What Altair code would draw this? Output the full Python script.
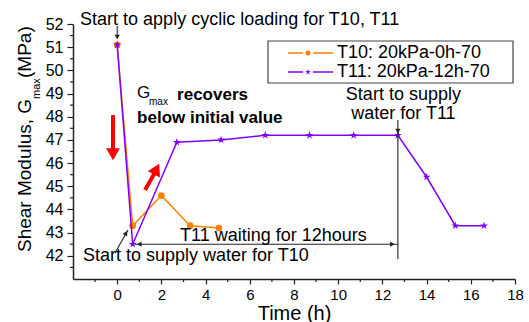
import altair as alt
import pandas as pd

# ---------------- data ----------------
t10_time = [0, 0.7, 2.0, 3.3, 4.6]
t10_g = [51.1, 43.3, 44.6, 43.3, 43.2]
t11_time = [0, 0.7, 2.7, 4.7, 6.7, 8.7, 10.7, 12.7, 14.0, 15.3, 16.6]
t11_g = [51.1, 42.5, 46.9, 47.0, 47.2, 47.2, 47.2, 47.2, 45.4, 43.3, 43.3]
series_labels = ["T10: 20kPa-0h-70", "T11: 20kPa-12h-70"]

x_ticks = list(range(0, 19, 2))
x_minor = list(range(-1, 18, 2))
y_ticks = list(range(42, 53))
y_minor = [41.5 + i for i in range(11)]

# annotation texts (positions in data units)
ann_left_text = ["Start to apply cyclic loading for T10, T11", "T11 waiting for 12hours",
                 "Start to supply water for T10"]
ann_left_x = [-1.68, 2.84, -1.55]
ann_left_y = [52.17, 42.87, 41.99]
ann_center_text = ["Start to supply", "water for T11"]
ann_center_x = [12.95, 12.95]
ann_center_y = [48.94, 48.11]
bold_text = ["recovers", "below initial value"]
bold_x = [2.71, 0.90]
bold_y = [48.94, 47.94]

# ---------------- style ----------------
W, H = 442, 255
LEFT, TOP = 73, 24
ORANGE = "#FF8000"
PURPLE = "#8000FF"
INK = "#222222"
FONT = "Liberation Sans"
STAR = ("M0,-1L0.2245,-0.309L0.951,-0.309L0.363,0.118L0.588,0.809L0,0.382"
        "L-0.588,0.809L-0.363,0.118L-0.951,-0.309L-0.2245,-0.309Z")

xs = alt.Scale(domain=[-2, 18], nice=False, zero=False)
ys = alt.Scale(domain=[41, 52], nice=False, zero=False)

x_axis = alt.Axis(values=x_ticks, tickSize=5, tickWidth=1.2, tickColor=INK, domainColor=INK,
                  domainWidth=1.5, labelFont=FONT, labelFontSize=15, labelColor="black",
                  labelPadding=3, title="Time (h)", titleFont=FONT, titleFontSize=20,
                  titleFontWeight="normal", titleColor="black", titleBaseline="alphabetic",
                  titleY=40, grid=False, labelFlush=False)
y_axis = alt.Axis(values=y_ticks, tickSize=6, tickWidth=1.2, tickColor=INK, domainColor=INK,
                  domainWidth=1.5, labelFont=FONT, labelFontSize=16, labelColor="black",
                  labelPadding=4, title="", grid=False, labelFlush=False)


def X(f="x"):
    return alt.X(f"{f}:Q", scale=xs, axis=x_axis, title="Time (h)")


def Y(f="y"):
    return alt.Y(f"{f}:Q", scale=ys, axis=y_axis, title="")


one = pd.DataFrame({"a": [0]})
t10 = pd.DataFrame({"x": t10_time, "y": t10_g})
t11 = pd.DataFrame({"x": t11_time, "y": t11_g})

layers = []

# series
layers.append(alt.Chart(t10).mark_line(color=ORANGE, strokeWidth=1.5).encode(x=X(), y=Y()))
layers.append(alt.Chart(t10).mark_point(shape="circle", filled=True, size=45, color=ORANGE,
                                        opacity=1).encode(x=X(), y=Y()))
layers.append(alt.Chart(t11).mark_line(color=PURPLE, strokeWidth=1.5).encode(x=X(), y=Y()))
layers.append(alt.Chart(t11).mark_point(shape=STAR, filled=True, size=70, color=PURPLE,
                                        opacity=1).encode(x=X(), y=Y()))

# minor ticks
layers.append(alt.Chart(pd.DataFrame({"x": x_minor})).mark_rule(color=INK, strokeWidth=1.2).encode(
    x=X(), y=alt.value(H), y2=alt.value(H + 3)))
layers.append(alt.Chart(pd.DataFrame({"y": y_minor})).mark_rule(color=INK, strokeWidth=1.2).encode(
    y=Y(), x=alt.value(0), x2=alt.value(-3)))

# black arrows: shafts
shafts = pd.DataFrame({
    "x": [0, 12.7, 0.8, -0.10],
    "y": [51.91, 47.86, 42.5, 42.12],
    "x2": [0, 12.7, 12.7, 0.49],
    "y2": [51.48, 41.86, 42.5, 43.11],
})
layers.append(alt.Chart(shafts).mark_rule(color=INK, strokeWidth=1.1).encode(
    x=X(), y=Y(), x2="x2:Q", y2="y2:Q"))
# arrow heads
heads = [
    (0, 51.44, "triangle-down", 0),
    (12.7, 47.38, "triangle-down", 0),
    (1.0, 42.5, "triangle-left", 0),
    (12.45, 42.5, "triangle-right", 0),
    (0.40, 42.98, "triangle-up", 29.5),
]
for hx, hy, shp, ang in heads:
    layers.append(alt.Chart(pd.DataFrame({"x": [hx], "y": [hy]})).mark_point(
        shape=shp, filled=True, size=28, color=INK, opacity=1, angle=ang).encode(x=X(), y=Y()))

# red arrows
red_shafts = pd.DataFrame({"x": [-0.19, 1.26], "y": [48.07, 44.84],
                           "x2": [-0.19, 1.71], "y2": [46.6, 45.6]})
layers.append(alt.Chart(red_shafts).mark_rule(color="#FF0000", strokeWidth=4).encode(
    x=X(), y=Y(), x2="x2:Q", y2="y2:Q"))
for hx, hy, ang in [(-0.19, 46.38, 180), (1.78, 45.74, 27)]:
    layers.append(alt.Chart(pd.DataFrame({"x": [hx], "y": [hy]})).mark_point(
        shape="triangle-up", filled=True, size=190, color="#FF0000", opacity=1,
        angle=ang).encode(x=X(), y=Y()))

# annotation texts
layers.append(alt.Chart(pd.DataFrame({"x": ann_left_x, "y": ann_left_y, "t": ann_left_text}))
              .mark_text(align="left", baseline="middle", font=FONT, fontSize=18, color="black")
              .encode(x=X(), y=Y(), text="t:N"))
layers.append(alt.Chart(pd.DataFrame({"x": ann_center_x, "y": ann_center_y, "t": ann_center_text}))
              .mark_text(align="center", baseline="middle", font=FONT, fontSize=18, color="black")
              .encode(x=X(), y=Y(), text="t:N"))
layers.append(alt.Chart(pd.DataFrame({"x": bold_x, "y": bold_y, "t": bold_text}))
              .mark_text(align="left", baseline="middle", font=FONT, fontSize=17,
                         fontWeight="bold", color="black")
              .encode(x=X(), y=Y(), text="t:N"))
layers.append(alt.Chart(pd.DataFrame({"x": [0.90], "y": [49.02], "t": ["G"]}))
              .mark_text(align="left", baseline="middle", font=FONT, fontSize=17, color="black")
              .encode(x=X(), y=Y(), text="t:N"))
layers.append(alt.Chart(pd.DataFrame({"x": [1.44], "y": [48.64], "t": ["max"]}))
              .mark_text(align="left", baseline="middle", font=FONT, fontSize=10, color="black")
              .encode(x=X(), y=Y(), text="t:N"))

# y axis title with subscript (pixel layout)
for txt, px, py, fs in [("Shear Modulus, G", -42, 228, 19), ("max", -33, 75, 11),
                        (" (MPa)", -42, 54, 19)]:
    layers.append(alt.Chart(one).mark_text(angle=270, align="left", baseline="alphabetic",
                                           font=FONT, fontSize=fs, color="black").encode(
        x=alt.value(px), y=alt.value(py), text=alt.value(txt)))

# legend (pixel layout)
layers.append(alt.Chart(one).mark_rect(fill="white", stroke="#444444", strokeWidth=1.2).encode(
    x=alt.value(195), x2=alt.value(440), y=alt.value(17), y2=alt.value(59)))
for i, (lab, col, shp, sz) in enumerate([(series_labels[0], ORANGE, "circle", 25),
                                         (series_labels[1], PURPLE, STAR, 35)]):
    ry = 29 + i * 19
    for a, b in [(215, 230), (240, 260)]:
        layers.append(alt.Chart(one).mark_rule(color=col, strokeWidth=1.5).encode(
            x=alt.value(a), x2=alt.value(b), y=alt.value(ry)))
    layers.append(alt.Chart(one).mark_point(shape=shp, filled=True, size=sz, color=col,
                                            opacity=1).encode(x=alt.value(235), y=alt.value(ry)))
    layers.append(alt.Chart(one).mark_text(align="left", baseline="middle", font=FONT,
                                           fontSize=18, color="black").encode(
        x=alt.value(264), y=alt.value(ry), text=alt.value(lab)))

chart = alt.layer(*layers).properties(
    width=W, height=H,
    padding={"left": LEFT, "top": TOP, "right": 529 - LEFT - W, "bottom": 322 - TOP - H},
    autosize=alt.AutoSizeParams(type="none"),
    background="white",
).configure_view(stroke=None)

chart.save("out.html", embed_options={"renderer": "svg", "actions": False})
